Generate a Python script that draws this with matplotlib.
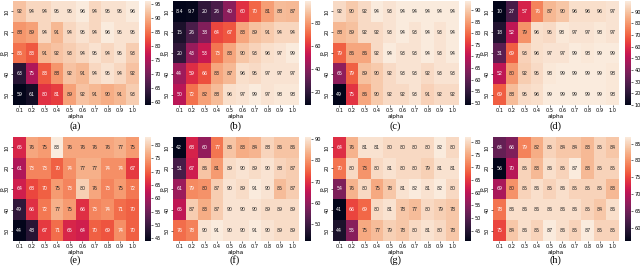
import numpy as np
import matplotlib
matplotlib.use("Agg")
import matplotlib.pyplot as plt
import seaborn as sns

alphas = ["0.1", "0.2", "0.3", "0.4", "0.5", "0.6", "0.7", "0.8", "0.9", "1.0"]
ps = ["10", "20", "30", "40", "50"]
panel_labels = ["(a)", "(b)", "(c)", "(d)", "(e)", "(f)", "(g)", "(h)"]

acc_a = [[92, 94, 94, 95, 95, 96, 94, 95, 95, 96],
         [88, 89, 94, 91, 94, 95, 94, 96, 95, 95],
         [85, 83, 91, 92, 93, 94, 95, 94, 95, 93],
         [63, 75, 83, 88, 92, 91, 94, 95, 94, 92],
         [59, 61, 80, 81, 89, 92, 91, 90, 91, 93]]
acc_b = [[8.4, 9.7, 20, 26, 40, 60, 70, 81, 88, 87],
         [15, 26, 38, 64, 67, 83, 89, 91, 94, 94],
         [20, 43, 53, 73, 83, 90, 93, 96, 97, 99],
         [44, 59, 66, 83, 87, 96, 95, 97, 97, 97],
         [50, 72, 82, 88, 96, 97, 99, 97, 98, 98]]
acc_c = [[92, 90, 92, 94, 93, 94, 94, 94, 94, 94],
         [88, 89, 92, 92, 93, 94, 93, 94, 93, 94],
         [79, 86, 86, 92, 94, 93, 93, 94, 93, 94],
         [65, 79, 89, 90, 92, 93, 93, 92, 93, 93],
         [49, 75, 86, 90, 92, 92, 93, 91, 92, 92]]
acc_d = [[10, 27, 57, 76, 87, 90, 96, 96, 96, 97],
         [18, 52, 79, 96, 95, 98, 97, 97, 98, 97],
         [31, 69, 93, 96, 97, 97, 99, 98, 99, 99],
         [52, 80, 92, 95, 98, 99, 99, 99, 99, 98],
         [69, 88, 95, 96, 99, 99, 99, 99, 99, 98]]
acc_e = [[65, 76, 75, 83, 76, 76, 76, 76, 77, 75],
         [61, 73, 73, 70, 74, 77, 77, 74, 74, 67],
         [64, 68, 70, 75, 73, 80, 76, 73, 75, 72],
         [49, 66, 72, 77, 75, 66, 73, 74, 71, 70],
         [44, 48, 67, 71, 65, 64, 70, 69, 74, 70]]
acc_f = [[42, 68, 60, 77, 86, 83, 84, 88, 86, 86],
         [51, 67, 86, 81, 89, 90, 89, 90, 88, 87],
         [61, 79, 80, 87, 90, 89, 91, 90, 85, 87],
         [65, 87, 83, 87, 90, 90, 90, 89, 89, 89],
         [76, 78, 90, 91, 90, 90, 91, 90, 89, 89]]
acc_g = [[64, 76, 81, 81, 80, 80, 80, 80, 82, 80],
         [70, 80, 73, 80, 81, 80, 80, 79, 81, 81],
         [54, 76, 80, 75, 78, 81, 82, 81, 82, 80],
         [41, 66, 69, 80, 81, 78, 77, 80, 79, 78],
         [44, 55, 75, 77, 79, 78, 80, 81, 80, 78]]
acc_h = [[64, 66, 79, 82, 85, 84, 84, 83, 85, 84],
         [56, 70, 85, 83, 86, 85, 87, 83, 85, 85],
         [69, 80, 85, 86, 85, 86, 85, 85, 85, 83],
         [78, 86, 86, 86, 86, 86, 86, 85, 84, 86],
         [75, 84, 86, 85, 87, 86, 85, 87, 85, 85]]

tables = [acc_a, acc_b, acc_c, acc_d, acc_e, acc_f, acc_g, acc_h]

W, H = 640, 268
fig = plt.figure(figsize=(W / 100, H / 100), dpi=100)


def px_box(x, y, w, h):
    # pixel box (top-left origin) -> figure fraction
    return [x / W, 1 - (y + h) / H, w / W, h / H]


for i, (tab, lab) in enumerate(zip(tables, panel_labels)):
    ox = 160 * (i % 4)
    oy = 134 * (i // 4)
    top = oy + (1 if i < 4 else 3)
    ax = fig.add_axes(px_box(ox + 13, top, 126, 104))
    cax = fig.add_axes(px_box(ox + 145, top, 6, 104))
    sns.heatmap(np.array(tab, dtype=float), ax=ax, cbar_ax=cax,
                xticklabels=alphas, yticklabels=ps,
                annot=True, annot_kws={"fontsize": 3.4})
    ax.tick_params(axis="both", labelsize=3.6, length=1.5, width=0.4, pad=1)
    ax.set_xticklabels(alphas, rotation=0)
    ax.set_yticklabels(ps, rotation=90, va="center")
    ax.set_xlabel("alpha", fontsize=4.2, labelpad=0.3)
    ax.set_ylabel("p", fontsize=4.2, labelpad=0.3)
    cax.tick_params(labelsize=3.6, length=1.5, width=0.4, pad=1)
    fig.text((ox + 75) / W, 1 - (oy + 126) / H, lab, ha="center", va="center",
             fontsize=7.5, family="Liberation Serif")

fig.savefig("out.png", dpi=100)
